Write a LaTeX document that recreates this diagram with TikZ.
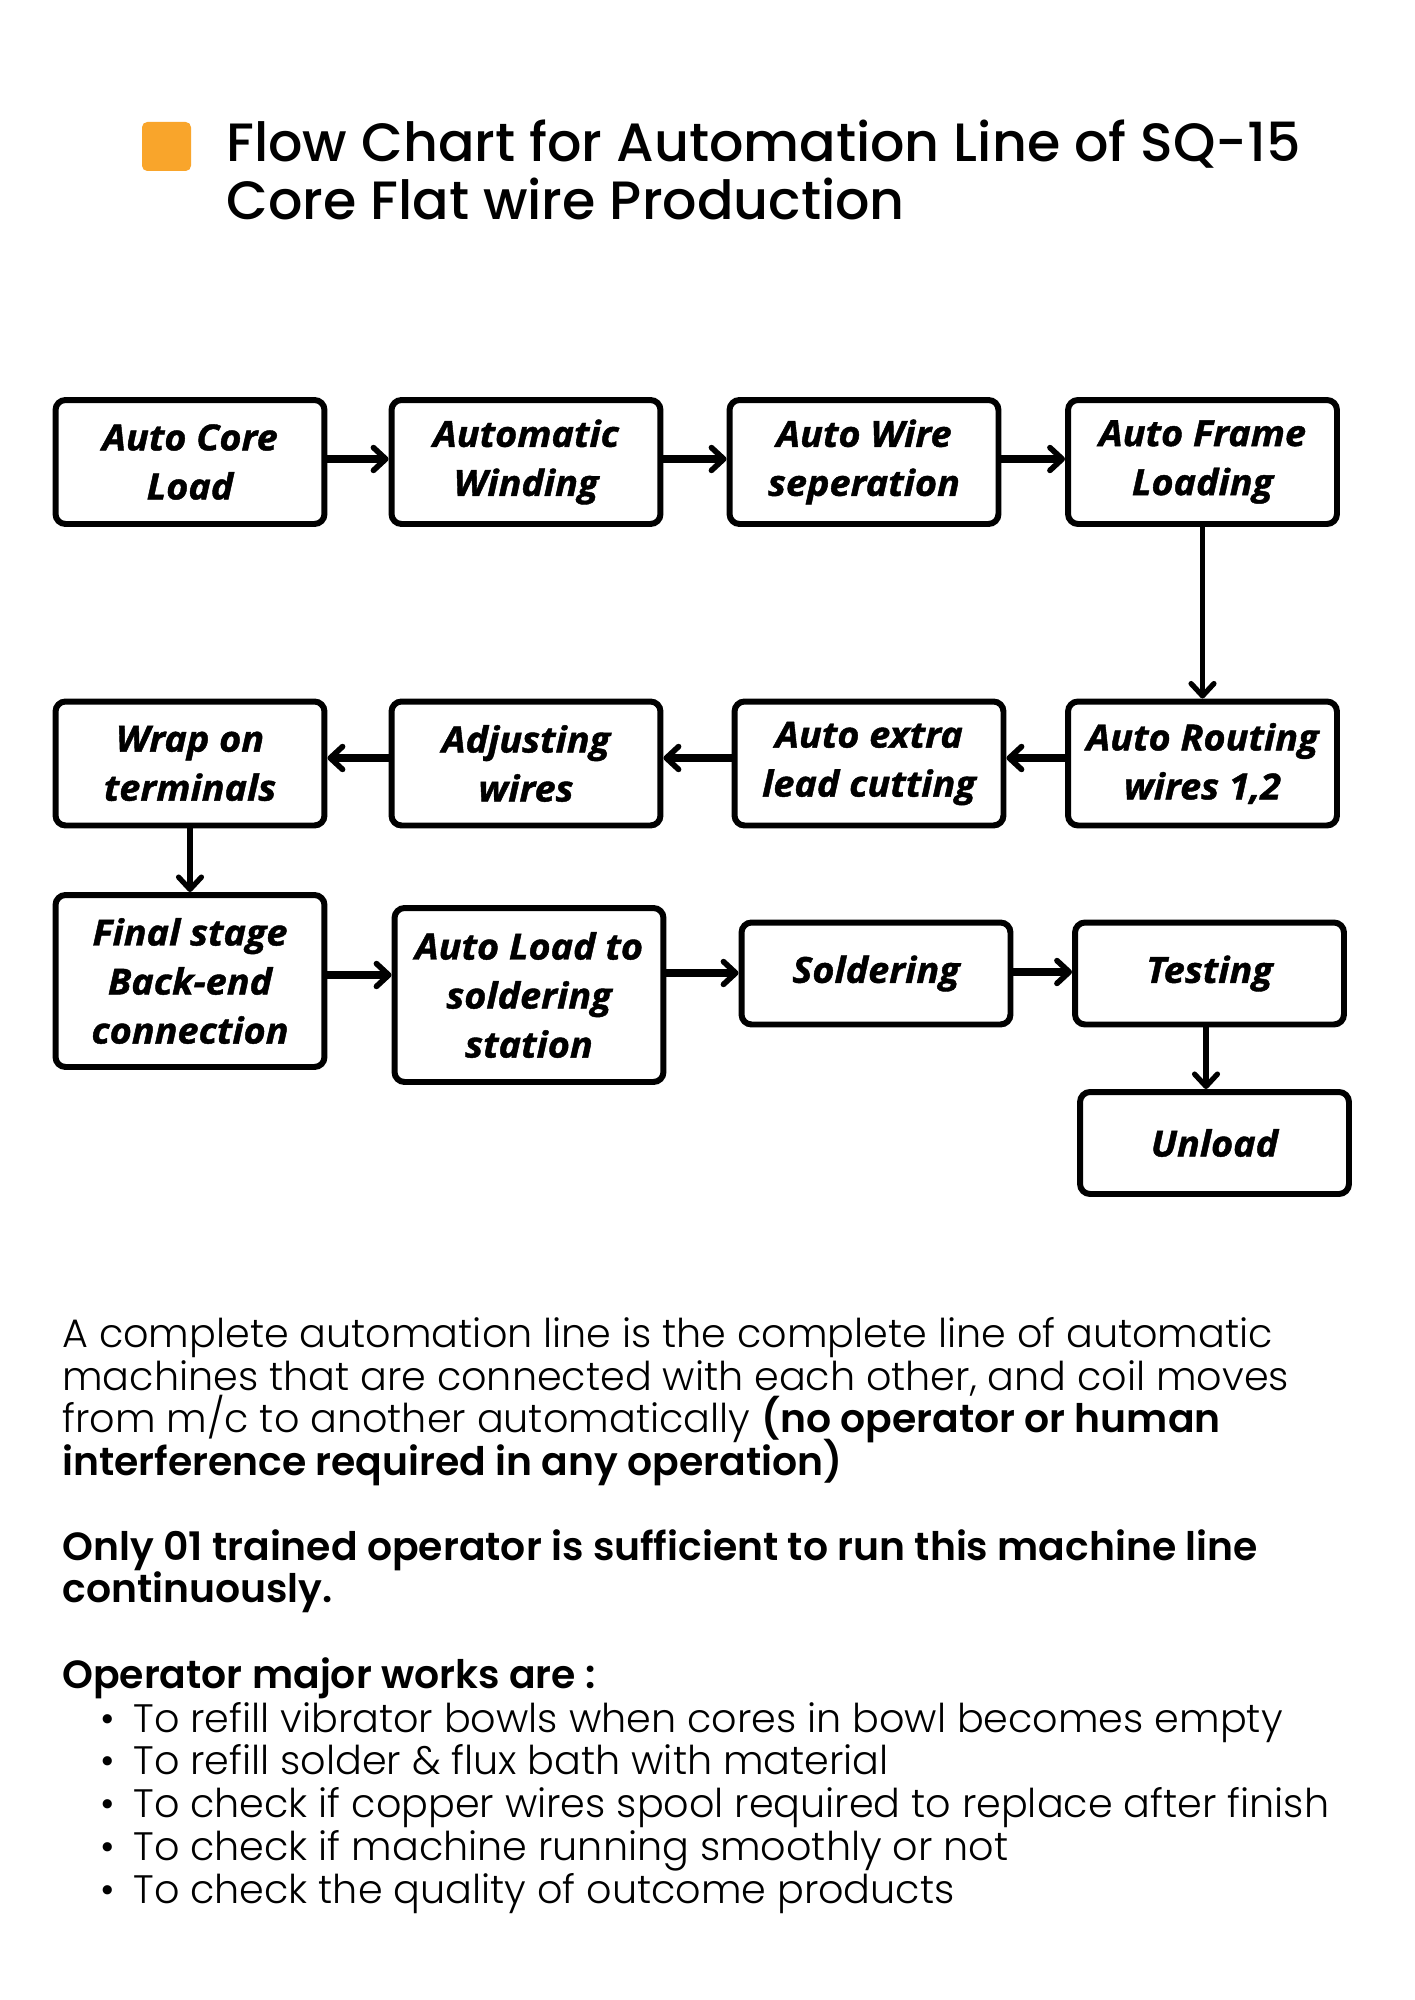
\documentclass[tikz,border=0pt]{standalone}
\usepackage{fontspec}
\usetikzlibrary{arrows.meta}
\newfontfamily\titlefont{Poppins Medium}
\newfontfamily\bodyfont{Poppins Light}[BoldFont={Poppins SemiBold},BoldFeatures={Scale=0.99}]
\newfontfamily\boxfont{Open Sans}[BoldItalicFeatures={FakeBold=1.2,FakeStretch=1.05}]
\definecolor{sqorange}{HTML}{F9A52B}
\tikzset{
  stepbox/.style={draw=black, line width=3.4pt, rounded corners=5.7pt, inner sep=0pt, align=center,
    minimum width=5.38cm, minimum height=2.48cm,
    font=\boxfont\bfseries\itshape\fontsize{20.5}{27.9}\selectfont},
  tallbox/.style={stepbox, minimum height=3.44cm},
  shortbox/.style={stepbox, minimum height=2.04cm},
  thk/.style={line width=4.5pt, -{Straight Barb[length=7pt,width=13pt,line width=3.2pt,round]}},
  thn/.style={line width=3pt, -{Straight Barb[length=7pt,width=13pt,line width=3pt,round]}},
  titletext/.style={anchor=base west, inner sep=0pt, font=\titlefont\fontsize{30.7}{33}\selectfont},
  bodytext/.style={anchor=base west, inner sep=0pt, font=\bodyfont\fontsize{22.6}{24}\selectfont},
}
\begin{document}
\begin{tikzpicture}[x=0.02cm,y=-0.02cm]
\useasboundingbox (0,0) rectangle (1414,2000);
\fill[white] (0,0) rectangle (1414,2000);
% title
\fill[sqorange, rounded corners=3pt] (142,122) rectangle (191,171);
\node[titletext] (t1) at (226,162) {Flow Chart for Automation Line of SQ-15};
\node[titletext] (t2) at (226,220) {Core Flat wire Production};
% boxes
\node[stepbox] (n1) at (190,462) {Auto Core\\Load};
\node[stepbox] (n2) at (526,462) {Automatic\\Winding};
\node[stepbox] (n3) at (864,462) {Auto Wire\\seperation};
\node[stepbox] (n4) at (1202.5,462) {Auto Frame\\Loading};
\node[stepbox] (n5) at (1202.5,763.5) {Auto Routing\\wires 1,2};
\node[stepbox] (n6) at (869,763.5) {Auto extra\\lead cutting};
\node[stepbox] (n7) at (526,763.5) {Adjusting\\wires};
\node[stepbox] (n8) at (190,763.5) {Wrap on\\terminals};
\node[tallbox] (n9) at (190,981) {Final stage\\Back-end\\connection};
\node[tallbox, minimum height=3.48cm] (n10) at (529,995) {Auto Load to\\soldering\\station};
\node[shortbox] (n11) at (876,973.5) {Soldering};
\node[shortbox] (n12) at (1209.5,973.5) {Testing};
\node[shortbox] (n13) at (1214.5,1143) {Unload};
% arrows
\coordinate (r1) at (0,459);
\coordinate (r2) at (0,758);
\coordinate (r3a) at (0,975);
\coordinate (r3b) at (0,973);
\coordinate (r3c) at (0,972);
\coordinate (v3) at (1206,0);
\draw[thk] (n1.east |- r1) -- (n2.west |- r1);
\draw[thk] (n2.east |- r1) -- (n3.west |- r1);
\draw[thk] (n3.east |- r1) -- (n4.west |- r1);
\draw[thn] (n4.south) -- (n5.north);
\draw[thk] (n5.west |- r2) -- (n6.east |- r2);
\draw[thk] (n6.west |- r2) -- (n7.east |- r2);
\draw[thk] (n7.west |- r2) -- (n8.east |- r2);
\draw[thn] (n8.south) -- (n9.north);
\draw[thk] (n9.east |- r3a) -- (n10.west |- r3a);
\draw[thk] (n10.east |- r3b) -- (n11.west |- r3b);
\draw[thk] (n11.east |- r3c) -- (n12.west |- r3c);
\draw[thn] (v3 |- n12.south) -- (v3 |- n13.north);
% body text
\node[bodytext] (b1) at (62,1347) {A complete automation line is the complete line of automatic};
\node[bodytext] (b2) at (62,1390) {machines that are connected with each other, and coil moves};
\node[bodytext] (b3) at (62,1432) {from m/c to another automatically \textbf{(no operator or human}};
\node[bodytext] (b4) at (62,1475) {\textbf{interference required in any operation)}};
\node[bodytext] (b5) at (62,1560) {\textbf{Only 01 trained operator is sufficient to run this machine line}};
\node[bodytext] (b6) at (62,1602) {\textbf{continuously.}};
\node[bodytext] (b7) at (62,1688) {\textbf{Operator major works are :}};
\node[bodytext] (d1) at (100,1732) {•};
\node[bodytext] (c1) at (133,1732) {To refill vibrator bowls when cores in bowl becomes empty};
\node[bodytext] (d2) at (100,1774) {•};
\node[bodytext] (c2) at (133,1774) {To refill solder \& flux bath with material};
\node[bodytext] (d3) at (100,1817) {•};
\node[bodytext] (c3) at (133,1817) {To check if copper wires spool required to replace after finish};
\node[bodytext] (d4) at (100,1860) {•};
\node[bodytext] (c4) at (133,1860) {To check if machine running smoothly or not};
\node[bodytext] (d5) at (100,1903) {•};
\node[bodytext] (c5) at (133,1903) {To check the quality of outcome products};
\end{tikzpicture}
\end{document}
